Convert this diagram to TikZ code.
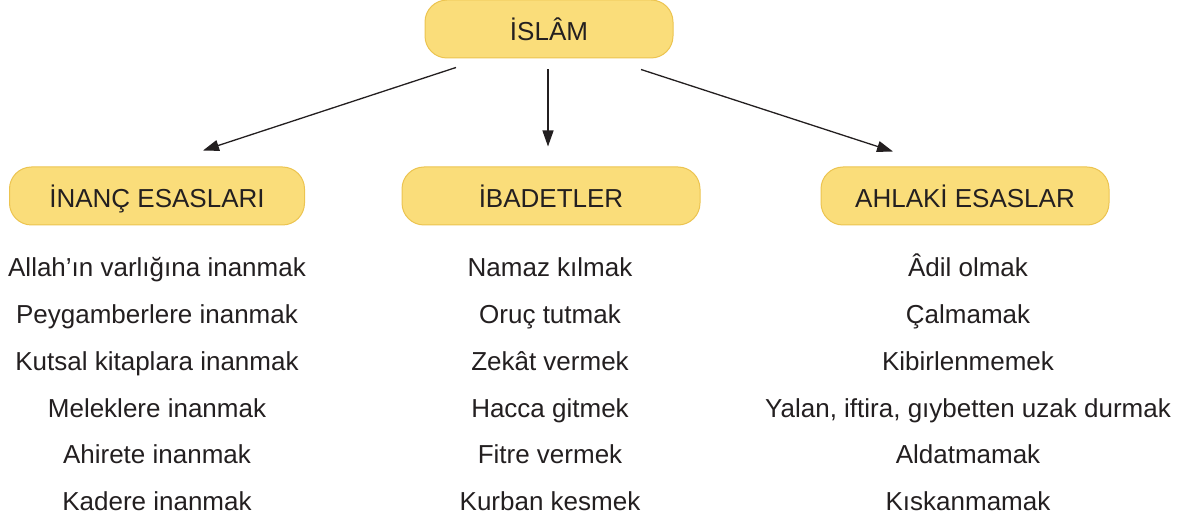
\documentclass[tikz,border=0pt]{standalone}
\usepackage{fontspec}
\setmainfont{Liberation Sans}
\usetikzlibrary{arrows.meta}
\definecolor{kutu}{RGB}{250,221,122}
\definecolor{kenar}{RGB}{236,196,80}
\definecolor{yazi}{RGB}{35,31,32}
\tikzset{
  baslik/.style={draw=kenar,line width=1pt,fill=kutu,rounded corners=22pt,
    minimum height=58pt,text height=24pt,text depth=0pt,inner sep=0pt,
    font=\fontsize{26}{30}\selectfont,text=yazi},
  madde/.style={anchor=base,inner sep=0pt,font=\fontsize{26}{30}\selectfont,text=yazi},
  ok/.style={draw=yazi,line width=1.3pt,-{Triangle[length=16pt,width=11pt]}}
}

\begin{document}
\begin{tikzpicture}[x=1pt,y=-1pt]
	\useasboundingbox (0,0) rectangle (1185,526);
	
	\node[baslik,minimum width=248pt] (islam) at (549,29) {İSLÂM};
	\node[baslik,minimum width=295pt] (inanc) at (157,196) {İNANÇ ESASLARI};
	\node[baslik,minimum width=298pt] (ibadet) at (551,196) {İBADETLER};
	\node[baslik,minimum width=288pt] (ahlak) at (965,196) {AHLAKİ ESASLAR};
	
	\draw[ok] ([xshift=-93pt,yshift=-9pt]islam.south) -- ([xshift=46pt,yshift=16pt]inanc.north);
	\draw[ok] ([xshift=-1pt,yshift=-11pt]islam.south) -- ([xshift=-3pt,yshift=20pt]ibadet.north);
	\draw[ok] ([xshift=92pt,yshift=-11pt]islam.south) -- ([xshift=-72pt,yshift=15pt]ahlak.north);
	
	% maddeler
	\foreach \t [count=\i] in {Allah’ın varlığına inanmak, Peygamberlere inanmak, Kutsal kitaplara inanmak, Meleklere inanmak, Ahirete inanmak, Kadere inanmak}
		\node[madde] (inanc\i) at (157,{277+46.7*(\i-1)}) {\t};
	\foreach \t [count=\i] in {Namaz kılmak, Oruç tutmak, Zekât vermek, Hacca gitmek, Fitre vermek, Kurban kesmek}
		\node[madde] (ibadet\i) at (550,{277+46.7*(\i-1)}) {\t};
	\foreach \t [count=\i] in {Âdil olmak, Çalmamak, Kibirlenmemek, {Yalan, iftira, gıybetten uzak durmak}, Aldatmamak, Kıskanmamak}
		\node[madde] (ahlak\i) at (968,{277+46.7*(\i-1)}) {\t};
\end{tikzpicture}
\end{document}
